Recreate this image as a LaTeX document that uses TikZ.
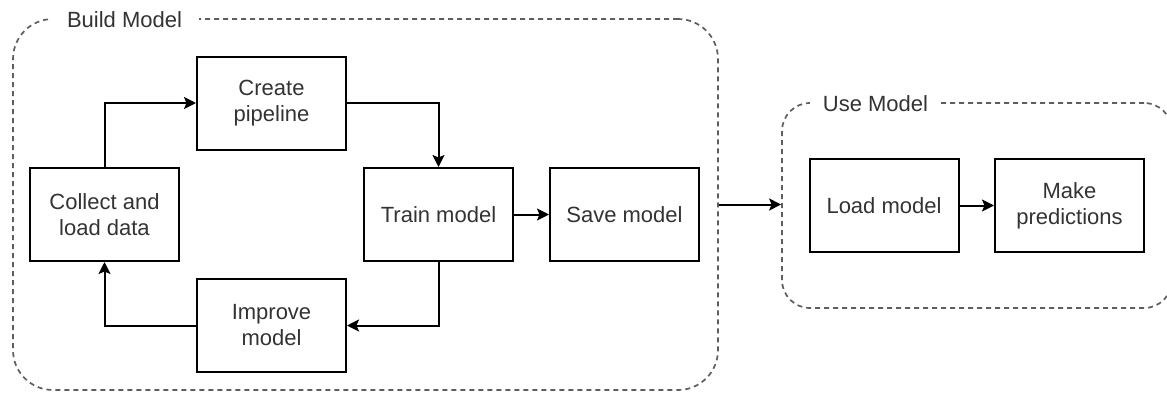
\documentclass[tikz,border=0pt]{standalone}
\usepackage{fontspec}
\setmainfont{Liberation Sans}
\usetikzlibrary{positioning,arrows.meta}

\definecolor{txtgray}{HTML}{333333}
\definecolor{dashgray}{HTML}{5E5E5E}

\begin{document}
\begin{tikzpicture}[x=1pt, y=-1pt,
    stepbox/.style={draw=black, line width=2pt, minimum width=149pt,
      minimum height=93pt, inner sep=0pt, align=center, text=txtgray,
      font=\fontsize{22}{26}\selectfont},
    group/.style={draw=dashgray, line width=1.7pt, dash pattern=on 5pt off 4pt,
      inner sep=0pt},
    grouplabel/.style={fill=white, text=txtgray, inner ysep=2pt,
      font=\fontsize{22}{26}\selectfont},
    flow/.style={-{Stealth[length=12pt, width=12pt, inset=2.5pt]}, line width=2pt}
]

\useasboundingbox (0,0) rectangle (1167,394);

% the two dashed groups
\node[group, rounded corners=40pt, minimum width=705pt, minimum height=371pt]
  (build) at (365.5,204.5) {};
\node[group, rounded corners=28pt, minimum width=390pt, minimum height=205pt]
  (use) at (977,205.5) {};

\node[grouplabel, inner xsep=17pt] (buildlbl) at (124.5,20) {Build Model};
\node[grouplabel, inner xsep=13pt] (uselbl) at (875.5,104) {Use Model};

% training loop
\node[stepbox] (collect) at (104.5,214.5) {Collect and\\load data};
\node[stepbox] (pipeline) at (271.5,103) {Create\\pipeline};
\node[stepbox] (train) at (438.5,214.5) {Train model};
\node[stepbox] (save) at (624.5,214.5) {Save model};
\node[stepbox] (improve) at (271.5,325.5) {Improve\\model};

% using the saved model
\node[stepbox] (load) at (884,205.5) {Load model};
\node[stepbox] (predict) at (1069.5,205.5) {Make\\predictions};

\draw[flow] (collect.north) |- (pipeline.west);
\draw[flow] (pipeline.east) -| (train.north);
\draw[flow] (train) -- (save);
\draw[flow] (train.south) |- (improve.east);
\draw[flow] (improve.west) -| (collect.south);

\draw[flow] (build.east) -- (build.east -| use.west);
\draw[flow] (load) -- (predict);

\end{tikzpicture}
\end{document}
